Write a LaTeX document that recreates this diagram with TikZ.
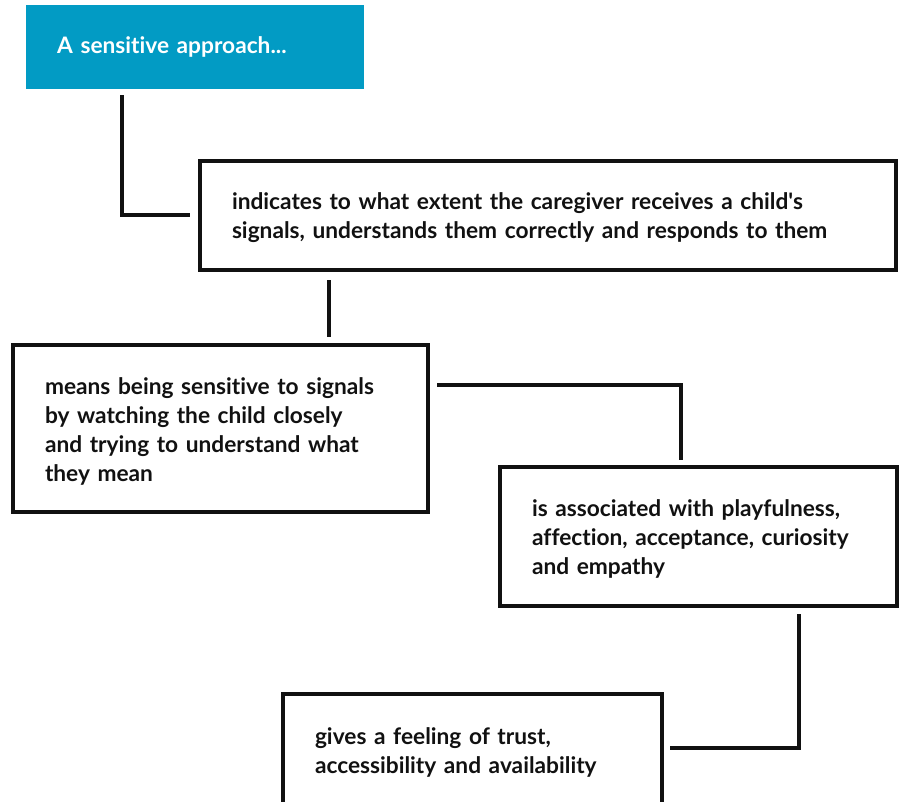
\documentclass[tikz,border=0pt]{standalone}
\usepackage{fontspec}
\setmainfont{Lato}[UprightFont=* Bold,RawFeature=-liga]
\usetikzlibrary{calc}
\definecolor{headblue}{HTML}{029BC4}
\definecolor{ink}{HTML}{111111}
\begin{document}
\begin{tikzpicture}[x=1pt,y=-1pt,
  box/.style={draw=ink,line width=4pt,anchor=north west,align=left,inner xsep=32pt,inner ysep=0pt,
    font=\fontsize{22.7}{29}\selectfont,text=ink},
  head/.style={fill=headblue,anchor=north west,align=left,inner xsep=31pt,inner ysep=0pt,
    font=\fontsize{22.7}{29}\selectfont,text=white,minimum width=338pt,minimum height=84pt,text width=276pt},
  link/.style={draw=ink,line width=4pt}]
\useasboundingbox (0,0) rectangle (899,802);
\node[head] (a) at (26,5) {A sensitive approach...};
\node[box,minimum width=696pt,minimum height=109pt,text width=632pt] (b) at (198,159)
  {\rule{0pt}{22pt}indicates to what extent the caregiver receives a child\textquotesingle s\\signals, understands them correctly and responds to them};
\node[box,minimum width=415pt,minimum height=167pt,text width=351pt] (c) at (11,343)
  {\rule{0pt}{22pt}means being sensitive to signals\\by watching the child closely\\and trying to understand what\\they mean};
\node[box,minimum width=397pt,minimum height=139pt,text width=333pt] (d) at (498,465)
  {\rule{0pt}{22pt}is associated with playfulness,\\affection, acceptance, curiosity\\and empathy};
\node[box,minimum width=379pt,minimum height=112pt,text width=315pt] (e) at (281,692)
  {\rule{0pt}{22pt}gives a feeling of trust,\\accessibility and availability};
\draw[link] ([xshift=96pt,yshift=-6pt]a.south west) |- ([xshift=-8pt]b.west);
\coordinate (t) at ([xshift=131pt,yshift=-8pt]b.south west);
\coordinate (cn) at ([yshift=6pt]c.north);
\draw[link] (t) -- (t |- cn);
\draw[link] ([xshift=7pt,yshift=-42pt]c.north east) -| ([xshift=183pt,yshift=5pt]d.north west);
\draw[link] ([xshift=301pt,yshift=-6pt]d.south west) |- ([xshift=6pt,yshift=-56pt]e.north east);
\end{tikzpicture}
\end{document}
